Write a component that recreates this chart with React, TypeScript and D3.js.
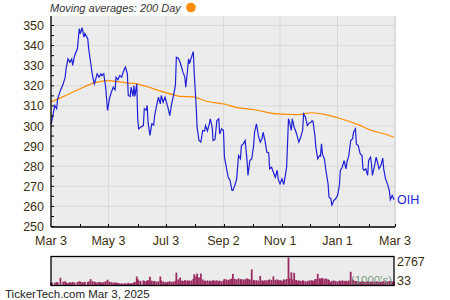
import React from "react";
import * as d3 from "d3";

// [date, close, volume (1000's)]
const daily: [string, number, number][] = [
  ["2024-03-03", 301.1, 250], ["2024-03-04", 302.7, 300], ["2024-03-07", 310.2, 280], ["2024-03-09", 308.6, 350],
  ["2024-03-10", 313.5, 300], ["2024-03-13", 317.7, 760], ["2024-03-16", 321, 380], ["2024-03-18", 324.3, 420],
  ["2024-03-19", 328.5, 300], ["2024-03-21", 333.4, 260], ["2024-03-23", 331.7, 330], ["2024-03-25", 333.4, 280],
  ["2024-03-26", 330.1, 350], ["2024-03-28", 335, 300], ["2024-03-31", 338.4, 340], ["2024-04-02", 348.4, 420],
  ["2024-04-03", 345.9, 380], ["2024-04-05", 348.9, 330], ["2024-04-07", 344.2, 300], ["2024-04-08", 346, 360],
  ["2024-04-11", 343.4, 350], ["2024-04-12", 338.4, 400], ["2024-04-14", 331.7, 630], ["2024-04-16", 325.1, 420],
  ["2024-04-18", 321, 380], ["2024-04-19", 322.6, 330], ["2024-04-21", 326, 300], ["2024-04-23", 324.3, 360],
  ["2024-04-25", 326, 320], ["2024-04-26", 325, 280], ["2024-04-28", 326, 340], ["2024-04-30", 319.3, 420],
  ["2024-05-02", 307.7, 570], ["2024-05-04", 313.5, 380], ["2024-05-06", 316.8, 330], ["2024-05-08", 319.3, 300],
  ["2024-05-10", 318, 280], ["2024-05-11", 324.3, 300], ["2024-05-13", 323, 250], ["2024-05-15", 325.1, 220],
  ["2024-05-17", 324.3, 180], ["2024-05-18", 326, 200], ["2024-05-20", 328.5, 190], ["2024-05-21", 329.3, 210],
  ["2024-05-23", 326, 200], ["2024-05-24", 315.2, 260], ["2024-05-26", 314.7, 220], ["2024-05-27", 319.3, 200],
  ["2024-05-29", 314.7, 240], ["2024-05-30", 320.1, 300], ["2024-05-31", 314.7, 350], ["2024-06-02", 321, 890],
  ["2024-06-03", 303.6, 620], ["2024-06-04", 298.6, 480], ["2024-06-06", 299.4, 450], ["2024-06-09", 300.2, 500],
  ["2024-06-10", 308.6, 460], ["2024-06-12", 308, 420], ["2024-06-13", 310.2, 480], ["2024-06-14", 301.9, 520],
  ["2024-06-16", 295.3, 860], ["2024-06-18", 301.1, 480], ["2024-06-20", 300.5, 400], ["2024-06-21", 305.2, 450],
  ["2024-06-23", 310.2, 380], ["2024-06-25", 314.3, 420], ["2024-06-27", 311, 890], ["2024-06-28", 315.2, 500],
  ["2024-06-30", 311.8, 380], ["2024-07-02", 314.3, 350], ["2024-07-04", 311, 300], ["2024-07-05", 309.4, 380],
  ["2024-07-07", 305.2, 420], ["2024-07-09", 311, 360], ["2024-07-11", 315.2, 400], ["2024-07-13", 320.1, 450],
  ["2024-07-14", 334.2, 1270], ["2024-07-16", 333.7, 600], ["2024-07-18", 331.7, 790], ["2024-07-20", 328.5, 480],
  ["2024-07-21", 326.8, 450], ["2024-07-23", 324.3, 520], ["2024-07-24", 319.3, 480], ["2024-07-26", 328.5, 500],
  ["2024-07-27", 333.4, 430], ["2024-07-28", 331, 480], ["2024-07-30", 334.2, 500], ["2024-08-01", 337, 650],
  ["2024-08-02", 326, 1110], ["2024-08-04", 310.2, 900], ["2024-08-05", 299.4, 1170], ["2024-08-07", 292.8, 800],
  ["2024-08-09", 292, 1170], ["2024-08-11", 297.8, 600], ["2024-08-13", 297.5, 480], ["2024-08-14", 300.2, 450],
  ["2024-08-16", 297.5, 500], ["2024-08-18", 301, 420], ["2024-08-19", 303.6, 480], ["2024-08-21", 299.4, 450],
  ["2024-08-22", 292.8, 520], ["2024-08-24", 293.3, 480], ["2024-08-26", 302.7, 500], ["2024-08-28", 303.6, 450],
  ["2024-08-29", 296, 480], ["2024-08-31", 298.6, 420], ["2024-09-02", 297.8, 500], ["2024-09-03", 284.5, 650],
  ["2024-09-05", 279.5, 600], ["2024-09-07", 274.5, 550], ["2024-09-09", 272.9, 620], ["2024-09-11", 267.9, 700],
  ["2024-09-12", 267.9, 1150], ["2024-09-14", 270.4, 650], ["2024-09-16", 273.7, 600], ["2024-09-18", 285.3, 700],
  ["2024-09-20", 283.7, 600], ["2024-09-21", 290.3, 650], ["2024-09-23", 291.1, 580], ["2024-09-25", 292.8, 620],
  ["2024-09-27", 282.8, 700], ["2024-09-28", 275.4, 650], ["2024-09-30", 282.8, 600], ["2024-10-02", 283.7, 1590],
  ["2024-10-04", 290.3, 550], ["2024-10-05", 296.9, 500], ["2024-10-07", 301.1, 520], ["2024-10-09", 295.3, 480],
  ["2024-10-11", 292, 950], ["2024-10-13", 293.7, 500], ["2024-10-14", 296.9, 480], ["2024-10-16", 292.8, 520],
  ["2024-10-18", 287, 500], ["2024-10-20", 286.6, 550], ["2024-10-21", 278.7, 600], ["2024-10-23", 279.5, 550],
  ["2024-10-25", 277, 900], ["2024-10-27", 274.5, 550], ["2024-10-29", 278, 600], ["2024-10-30", 273.7, 500],
  ["2024-11-01", 271.2, 550], ["2024-11-03", 273.7, 480], ["2024-11-05", 270.9, 600], ["2024-11-06", 273.7, 550],
  ["2024-11-08", 279.5, 650], ["2024-11-10", 303.6, 2767], ["2024-11-11", 302, 700], ["2024-11-13", 297.8, 1300],
  ["2024-11-14", 303.6, 600], ["2024-11-16", 299.4, 1250], ["2024-11-18", 297, 550], ["2024-11-19", 295.3, 480],
  ["2024-11-21", 292, 500], ["2024-11-23", 294.5, 450], ["2024-11-25", 297.8, 500], ["2024-11-26", 306, 480],
  ["2024-11-28", 304.4, 400], ["2024-11-30", 300.2, 450], ["2024-12-02", 301.5, 500], ["2024-12-04", 301.9, 480],
  ["2024-12-05", 302.7, 520], ["2024-12-06", 302.3, 450], ["2024-12-08", 295.3, 600], ["2024-12-09", 289.5, 650],
  ["2024-12-11", 283.7, 1150], ["2024-12-13", 285.3, 700], ["2024-12-14", 285, 650], ["2024-12-15", 291.1, 700],
  ["2024-12-16", 286, 750], ["2024-12-18", 283.7, 650], ["2024-12-20", 277, 700], ["2024-12-22", 271.2, 600],
  ["2024-12-23", 264.6, 550], ["2024-12-25", 263.8, 350], ["2024-12-26", 260.4, 450], ["2024-12-28", 262.9, 500],
  ["2024-12-30", 263.8, 450], ["2025-01-01", 265.4, 400], ["2025-01-03", 270.4, 480], ["2025-01-04", 277.9, 450],
  ["2025-01-06", 279.5, 500], ["2025-01-08", 282.8, 450], ["2025-01-10", 278.7, 480], ["2025-01-11", 282, 420],
  ["2025-01-13", 285.3, 500], ["2025-01-15", 292.8, 1350], ["2025-01-17", 293.7, 600], ["2025-01-18", 296.9, 500],
  ["2025-01-20", 298.6, 450], ["2025-01-21", 291.1, 420], ["2025-01-23", 290.3, 400], ["2025-01-25", 286.2, 380],
  ["2025-01-27", 285.3, 420], ["2025-01-28", 278.7, 400], ["2025-01-29", 277.9, 380], ["2025-01-31", 278.7, 350],
  ["2025-02-02", 275.4, 400], ["2025-02-03", 282.8, 380], ["2025-02-05", 284.5, 350], ["2025-02-06", 281.2, 400],
  ["2025-02-07", 275.4, 380], ["2025-02-09", 279.5, 350], ["2025-02-11", 284.5, 380], ["2025-02-12", 282.8, 400],
  ["2025-02-14", 278.7, 350], ["2025-02-16", 280.3, 380], ["2025-02-18", 284, 400], ["2025-02-19", 278.7, 420],
  ["2025-02-21", 273.7, 380], ["2025-02-23", 271.2, 400], ["2025-02-25", 267.9, 420], ["2025-02-26", 263.3, 450],
  ["2025-02-28", 265.4, 400], ["2025-03-02", 263.3, 380],
];

const maDates = [
  "2024-03-03", "2024-03-13", "2024-04-03", "2024-04-17", "2024-05-01", "2024-05-22", "2024-06-02",
  "2024-06-20", "2024-07-11", "2024-07-18", "2024-08-01", "2024-08-15", "2024-09-04", "2024-09-14",
  "2024-10-05", "2024-10-30", "2024-11-20", "2024-12-05", "2024-12-19", "2025-01-02", "2025-01-23",
  "2025-02-06", "2025-02-20", "2025-03-02",
];
const maValues = [
  312, 314, 318.5, 321.3, 322.6, 321.5, 321, 318.5, 315.5, 314.7, 314.5, 312.3, 310.8, 309.4,
  308.1, 306, 305.7, 306.6, 305.7, 304, 300.7, 297.8, 296, 294.4,
];

const xTickDates = ["2024-03-03", "2024-05-03", "2024-07-03", "2024-09-02", "2024-11-01", "2025-01-01", "2025-03-03"];
const xTickLabels = ["Mar 3", "May 3", "Jul 3", "Sep 2", "Nov 1", "Jan 1", "Mar 3"];
const yTicks = [250, 260, 270, 280, 290, 300, 310, 320, 330, 340, 350];
const volumeMax = 2767;
const volumeMin = 33;
const tickerLabel = "OIH";
const legendText = "Moving averages: 200 Day";
const footerText = "TickerTech.com  Mar 3, 2025";

const parse = d3.timeParse("%Y-%m-%d");

export default function App() {
  const W = 450, H = 300;
  const left = 51, right = 395, top = 16, bottom = 227;
  const x = d3.scaleTime().domain([parse("2024-03-03")!, parse("2025-03-03")!]).range([left, right]);
  const y = d3.scaleLinear().domain([250, 350]).range([226.5, 25.5]);
  const vTop = 256.5, vBottom = 285.5, vLeft = 51, vRight = 394;
  const vy = d3.scaleLinear().domain([0, volumeMax]).range([vBottom, vTop + 1]);

  const pts = daily.map((d) => ({ date: parse(d[0])!, v: d[1], vol: d[2] }));
  const line = d3.line<{ date: Date; v: number }>().x((d) => x(d.date)).y((d) => y(d.v));
  const maPts = maDates.map((d, i) => ({ date: parse(d)!, v: maValues[i] }));
  const maLine = d3.line<{ date: Date; v: number }>().x((d) => x(d.date)).y((d) => y(d.v)).curve(d3.curveMonotoneX);

  const monthTicks = d3.timeMonth.range(parse("2024-03-03")!, parse("2025-03-04")!).map((d) => d3.timeDay.offset(d, 2));
  const minorY = d3.range(255, 350, 10);
  const labelColor = "#3d3010";
  const font = "'Liberation Sans', Arial, sans-serif";

  return (
    <svg width={W} height={H} style={{ position: "absolute", left: 0, top: 0, background: "#fff" }} fontFamily={font}>
      <text x={50} y={12} fontSize={11} fontStyle="italic" fill="#333">{legendText}</text>
      <circle cx={191} cy={7.5} r={4.8} fill="#ff8c00" />

      <rect x={left} y={top} width={right - left} height={bottom - top} fill="#ececec" />
      {yTicks.map((t) => (
        <line key={"gy" + t} x1={left} x2={right} y1={y(t)} y2={y(t)} stroke="#d9d9d9" strokeWidth={1} />
      ))}
      {xTickDates.map((t, i) => (
        <line key={"gx" + i} x1={x(parse(t)!)} x2={x(parse(t)!)} y1={top} y2={bottom} stroke="#d9d9d9" strokeWidth={1} />
      ))}
      <line x1={right} x2={right} y1={top} y2={bottom} stroke="#d0d0d0" strokeWidth={1} />

      <path d={maLine(maPts) || ""} fill="none" stroke="#ff8c00" strokeWidth={1.2} />
      <path d={line(pts) || ""} fill="none" stroke="#1f1fd6" strokeWidth={1.2} />

      <line x1={left} x2={left} y1={top} y2={bottom} stroke="#000" strokeWidth={1.3} />
      <line x1={left} x2={right} y1={bottom} y2={bottom} stroke="#000" strokeWidth={1.3} />
      {minorY.map((t) => (
        <line key={"my" + t} x1={left} x2={left + 3} y1={y(t)} y2={y(t)} stroke="#000" strokeWidth={1} />
      ))}
      {yTicks.map((t) => (
        <line key={"ty" + t} x1={left} x2={left + 3} y1={y(t)} y2={y(t)} stroke="#000" strokeWidth={1} />
      ))}
      {monthTicks.map((d, i) => (
        <line key={"mx" + i} x1={Math.round(x(d)) + 0.5} x2={Math.round(x(d)) + 0.5} y1={bottom} y2={bottom - 3} stroke="#000" strokeWidth={1} />
      ))}
      {yTicks.map((t) => (
        <text key={"ly" + t} x={44} y={y(t) + 4.5} fontSize={12.5} textAnchor="end" fill={labelColor}>{t}</text>
      ))}
      {xTickDates.map((t, i) => (
        <text key={"lx" + i} x={x(parse(t)!)} y={245} fontSize={12.5} textAnchor="middle" fill={labelColor}>{xTickLabels[i]}</text>
      ))}
      <text x={397} y={204} fontSize={12.5} fill="#2222dd">{tickerLabel}</text>

      <rect x={vLeft} y={vTop} width={vRight - vLeft} height={vBottom - vTop} fill="#ececec" />
      {pts.map((d, i) => (
        <rect key={"v" + i} x={x(d.date) - 0.9} width={1.8} y={vy(d.vol)} height={vBottom - vy(d.vol)} fill="#9b2c62" />
      ))}
      <text x={392} y={284} fontSize={11.5} textAnchor="end" fill="#5e8a6a" fillOpacity={0.85}>(1000's)</text>
      <rect x={vLeft} y={vTop} width={vRight - vLeft} height={vBottom - vTop} fill="none" stroke="#000" strokeWidth={1.3} />
      <text x={397} y={266} fontSize={12.5} fill={labelColor}>{volumeMax}</text>
      <text x={397} y={285} fontSize={12.5} fill={labelColor}>{volumeMin}</text>

      <text x={5} y={298} fontSize={11.5} fill="#222">{footerText}</text>
    </svg>
  );
}
